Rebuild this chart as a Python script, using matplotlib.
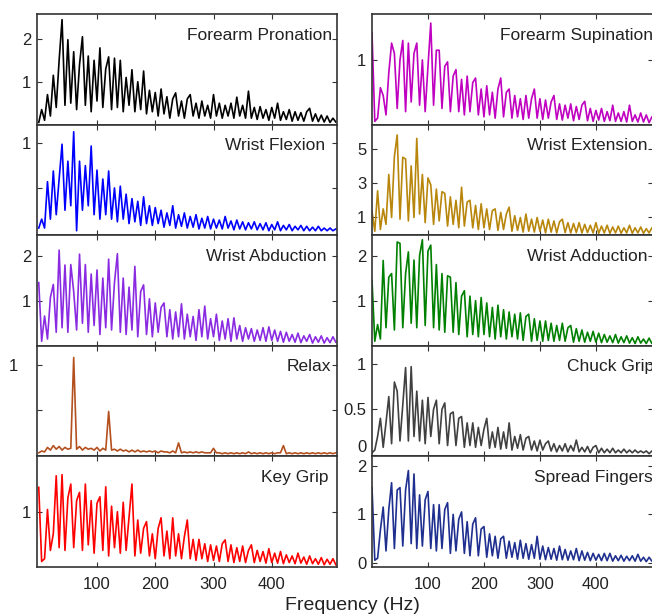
import matplotlib
matplotlib.use('Agg')
import matplotlib.pyplot as plt
import numpy as np

plt.rcParams['font.family'] = ['Liberation Sans', 'DejaVu Sans']

# frequency grid of the spectra (Hz)
freqs = np.arange(0, 511, 5)

# amplitude, 5 Hz steps from 0 to 510 Hz
forearm_pronation = [
    0.05, 0.35, 0.1, 0.7, 0.2, 1.15, 0.4, 1.5, 2.45, 0.45,
    1.98, 0.5, 1.7, 0.35, 1.4, 2.05, 0.45, 1.6, 0.3, 1.5,
    0.55, 1.79, 0.4, 1.3, 1.58, 0.35, 1.55, 0.4, 1.5, 0.3,
    1.1, 0.45, 1.28, 0.3, 1.0, 0.35, 1.25, 0.25, 0.8, 0.3,
    0.75, 0.2, 0.83, 0.25, 0.65, 0.15, 0.6, 0.74, 0.2, 0.55,
    0.15, 0.6, 0.7, 0.2, 0.5, 0.15, 0.55, 0.2, 0.45, 0.15,
    0.7, 0.2, 0.5, 0.15, 0.45, 0.2, 0.5, 0.15, 0.64, 0.2,
    0.45, 0.15, 0.78, 0.15, 0.4, 0.12, 0.42, 0.15, 0.35, 0.1,
    0.4, 0.15, 0.5, 0.1, 0.3, 0.12, 0.35, 0.08, 0.3, 0.1,
    0.28, 0.08, 0.3, 0.38, 0.08, 0.25, 0.07, 0.22, 0.06, 0.2,
    0.05, 0.15, 0.06]

wrist_flexion = [
    0.05, 0.15, 0.05, 0.57, 0.15, 0.69, 0.2, 0.6, 0.99, 0.25,
    0.8, 0.3, 1.13, 0.02, 0.8, 0.25, 0.75, 0.3, 0.97, 0.2,
    0.7, 0.15, 0.6, 0.2, 0.69, 0.15, 0.5, 0.12, 0.52, 0.15,
    0.43, 0.1, 0.38, 0.12, 0.35, 0.08, 0.4, 0.1, 0.3, 0.08,
    0.28, 0.1, 0.25, 0.06, 0.22, 0.08, 0.3, 0.05, 0.2, 0.07,
    0.22, 0.05, 0.18, 0.06, 0.2, 0.04, 0.16, 0.05, 0.18, 0.04,
    0.15, 0.05, 0.14, 0.04, 0.18, 0.05, 0.13, 0.03, 0.14, 0.04,
    0.12, 0.03, 0.11, 0.04, 0.12, 0.03, 0.1, 0.03, 0.11, 0.02,
    0.09, 0.03, 0.12, 0.02, 0.08, 0.03, 0.09, 0.02, 0.07, 0.03,
    0.08, 0.02, 0.07, 0.02, 0.06, 0.02, 0.07, 0.02, 0.05, 0.02,
    0.05, 0.02, 0.04]

wrist_abduction = [
    1.4, 0.1, 0.66, 0.15, 1.07, 1.36, 0.3, 2.12, 0.4, 1.79,
    0.3, 1.8, 1.2, 0.35, 2.03, 0.5, 1.8, 0.3, 1.59, 0.45,
    1.68, 0.25, 1.5, 0.4, 1.92, 0.35, 1.4, 2.04, 0.3, 1.5,
    0.25, 1.3, 0.35, 1.76, 0.2, 1.2, 1.35, 0.25, 1.04, 0.2,
    0.95, 0.3, 0.85, 0.95, 0.2, 0.8, 0.15, 0.75, 0.2, 0.93,
    0.15, 0.7, 0.2, 0.65, 0.12, 0.8, 0.2, 0.88, 0.15, 0.6,
    0.2, 0.7, 0.12, 0.55, 0.15, 0.6, 0.1, 0.62, 0.15, 0.45,
    0.1, 0.4, 0.15, 0.38, 0.1, 0.35, 0.12, 0.4, 0.1, 0.42,
    0.12, 0.35, 0.1, 0.32, 0.08, 0.3, 0.1, 0.25, 0.08, 0.28,
    0.07, 0.22, 0.1, 0.25, 0.06, 0.2, 0.08, 0.22, 0.06, 0.18,
    0.07, 0.2, 0.08]

relax = [
    0.02, 0.04, 0.03, 0.08, 0.05, 0.1, 0.06, 0.09, 0.05, 0.08,
    0.06, 0.07, 1.08, 0.06, 0.09, 0.05, 0.08, 0.06, 0.07, 0.05,
    0.08, 0.04, 0.07, 0.05, 0.48, 0.05, 0.06, 0.04, 0.06, 0.04,
    0.05, 0.03, 0.05, 0.03, 0.05, 0.03, 0.04, 0.03, 0.04, 0.03,
    0.04, 0.02, 0.04, 0.03, 0.03, 0.02, 0.04, 0.02, 0.13, 0.02,
    0.03, 0.02, 0.03, 0.02, 0.03, 0.02, 0.03, 0.02, 0.02, 0.02,
    0.07, 0.02, 0.02, 0.01, 0.02, 0.01, 0.02, 0.01, 0.02, 0.01,
    0.02, 0.01, 0.03, 0.01, 0.02, 0.01, 0.02, 0.01, 0.02, 0.01,
    0.02, 0.01, 0.02, 0.02, 0.1, 0.01, 0.02, 0.01, 0.02, 0.01,
    0.02, 0.01, 0.02, 0.01, 0.02, 0.01, 0.02, 0.01, 0.02, 0.01,
    0.02, 0.01, 0.02]

key_grip = [
    1.44, 0.1, 0.15, 1.04, 0.3, 0.6, 1.65, 0.35, 1.67, 0.3,
    1.25, 1.5, 0.35, 1.2, 1.35, 0.3, 1.5, 0.4, 1.2, 0.25,
    1.15, 1.27, 0.3, 1.45, 0.2, 1.1, 0.35, 1.0, 0.25, 1.17,
    0.3, 0.9, 1.5, 0.2, 0.85, 0.25, 0.7, 0.82, 0.2, 0.6,
    0.15, 0.7, 0.89, 0.2, 0.65, 0.15, 0.89, 0.2, 0.6, 0.15,
    0.55, 0.85, 0.15, 0.5, 0.12, 0.5, 0.15, 0.42, 0.1, 0.4,
    0.12, 0.38, 0.1, 0.42, 0.49, 0.1, 0.4, 0.08, 0.35, 0.1,
    0.38, 0.08, 0.3, 0.4, 0.08, 0.3, 0.1, 0.28, 0.07, 0.33,
    0.08, 0.25, 0.07, 0.28, 0.06, 0.22, 0.08, 0.2, 0.06, 0.25,
    0.07, 0.18, 0.05, 0.2, 0.06, 0.15, 0.05, 0.17, 0.04, 0.14,
    0.05, 0.15, 0.04]

forearm_supination = [
    1.42, 0.05, 0.1, 0.57, 0.45, 0.15, 0.8, 1.26, 1.1, 0.25,
    1.0, 1.3, 0.2, 1.26, 0.35, 1.1, 1.26, 0.3, 1.0, 0.2,
    0.9, 1.57, 0.3, 1.15, 1.15, 0.25, 0.9, 0.97, 0.2, 0.75,
    0.85, 0.2, 0.7, 0.15, 0.75, 0.2, 0.65, 0.72, 0.15, 0.55,
    0.12, 0.6, 0.15, 0.5, 0.1, 0.55, 0.72, 0.12, 0.5, 0.55,
    0.1, 0.45, 0.12, 0.4, 0.08, 0.45, 0.1, 0.4, 0.55, 0.1,
    0.4, 0.08, 0.38, 0.1, 0.35, 0.45, 0.08, 0.32, 0.07, 0.3,
    0.1, 0.32, 0.06, 0.28, 0.08, 0.3, 0.36, 0.06, 0.25, 0.05,
    0.22, 0.07, 0.25, 0.05, 0.2, 0.06, 0.3, 0.05, 0.18, 0.05,
    0.2, 0.04, 0.3, 0.05, 0.15, 0.04, 0.18, 0.04, 0.15, 0.03,
    0.12, 0.03, 0.1]

wrist_extension = [
    1.34, 0.2, 2.55, 0.3, 1.5, 0.6, 3.5, 1.0, 4.55, 5.8,
    0.9, 4.5, 4.4, 0.8, 4.0, 1.0, 5.6, 1.2, 3.5, 0.7,
    3.3, 2.9, 0.6, 2.65, 0.8, 2.5, 2.4, 0.5, 2.2, 0.6,
    2.0, 0.4, 2.76, 0.5, 1.9, 2.0, 0.4, 1.7, 0.3, 1.8,
    0.4, 1.5, 0.3, 1.4, 1.5, 0.25, 1.3, 0.3, 1.2, 1.6,
    0.2, 1.1, 0.25, 1.0, 0.15, 1.2, 0.2, 0.9, 0.15, 1.0,
    0.2, 0.85, 0.1, 0.9, 0.15, 0.8, 0.1, 0.75, 0.9, 0.12,
    0.7, 0.1, 0.65, 0.12, 0.7, 0.1, 0.6, 0.12, 0.55, 0.1,
    0.7, 0.08, 0.5, 0.1, 0.55, 0.08, 0.45, 0.1, 0.5, 0.08,
    0.4, 0.1, 0.55, 0.08, 0.4, 0.1, 0.45, 0.08, 0.35, 0.1,
    0.4, 0.08, 0.35]

wrist_adduction = [
    1.45, 0.1, 0.47, 0.15, 1.89, 0.4, 1.52, 1.6, 0.35, 2.3,
    2.27, 0.4, 1.6, 2.08, 0.5, 1.9, 0.4, 2.0, 2.35, 0.45,
    2.1, 2.23, 0.4, 1.8, 0.35, 1.6, 0.3, 1.55, 1.52, 0.3,
    1.4, 0.25, 1.1, 1.22, 0.2, 1.1, 0.25, 1.0, 0.2, 1.07,
    0.25, 0.95, 0.2, 0.85, 0.15, 0.9, 0.2, 0.8, 0.15, 0.75,
    0.2, 0.7, 0.15, 0.73, 0.12, 0.65, 0.7, 0.1, 0.6, 0.12,
    0.55, 0.1, 0.55, 0.12, 0.5, 0.1, 0.45, 0.12, 0.5, 0.1,
    0.4, 0.45, 0.08, 0.38, 0.1, 0.35, 0.08, 0.3, 0.1, 0.32,
    0.08, 0.28, 0.07, 0.25, 0.08, 0.22, 0.07, 0.25, 0.06, 0.2,
    0.07, 0.22, 0.06, 0.18, 0.05, 0.2, 0.06, 0.15, 0.05, 0.17,
    0.05, 0.15, 0.05]

chuck_grip = [
    0.02, 0.05, 0.2, 0.4, 0.08, 0.35, 0.64, 0.12, 0.8, 0.7,
    0.15, 0.55, 0.96, 0.15, 0.97, 0.2, 0.7, 0.15, 0.6, 0.12,
    0.63, 0.2, 0.5, 0.6, 0.12, 0.5, 0.57, 0.1, 0.45, 0.47,
    0.1, 0.4, 0.42, 0.08, 0.35, 0.1, 0.35, 0.08, 0.3, 0.1,
    0.28, 0.4, 0.07, 0.25, 0.08, 0.3, 0.06, 0.25, 0.07, 0.35,
    0.05, 0.2, 0.07, 0.22, 0.05, 0.18, 0.2, 0.05, 0.15, 0.04,
    0.16, 0.05, 0.12, 0.15, 0.04, 0.12, 0.03, 0.1, 0.04, 0.12,
    0.03, 0.1, 0.04, 0.16, 0.03, 0.08, 0.03, 0.09, 0.02, 0.08,
    0.1, 0.02, 0.07, 0.02, 0.06, 0.02, 0.07, 0.02, 0.05, 0.02,
    0.06, 0.02, 0.05, 0.02, 0.05, 0.02, 0.04, 0.02, 0.04, 0.01,
    0.04, 0.01, 0.03]

spread_fingers = [
    1.55, 0.06, 0.1, 0.68, 1.15, 0.25, 1.1, 1.65, 0.3, 1.5,
    1.55, 0.35, 1.5, 1.9, 0.4, 1.83, 0.3, 1.4, 0.35, 1.3,
    1.47, 0.3, 1.2, 0.25, 1.2, 0.3, 1.1, 1.24, 0.2, 1.0,
    0.25, 0.9, 1.05, 0.2, 0.85, 0.15, 0.8, 0.93, 0.15, 0.7,
    0.75, 0.12, 0.6, 0.15, 0.55, 0.1, 0.5, 0.55, 0.1, 0.45,
    0.12, 0.42, 0.08, 0.47, 0.1, 0.4, 0.08, 0.38, 0.1, 0.55,
    0.08, 0.35, 0.07, 0.32, 0.08, 0.3, 0.06, 0.35, 0.07, 0.28,
    0.06, 0.25, 0.07, 0.3, 0.05, 0.25, 0.06, 0.22, 0.05, 0.2,
    0.06, 0.18, 0.05, 0.2, 0.05, 0.2, 0.04, 0.15, 0.05, 0.16,
    0.04, 0.14, 0.05, 0.15, 0.04, 0.18, 0.04, 0.12, 0.03, 0.12,
    0.04, 0.1, 0.03]

x_ticks = [100, 200, 300, 400]

# (title, values, colour, yticks, ytick labels, ylim, title x in axes fraction)
left_panels = [
    ('Forearm Pronation', forearm_pronation, 'black', [1, 2], ['1', '2'], (0, 2.58), 0.985),
    ('Wrist Flexion', wrist_flexion, '#0000ff', [0.5, 1], ['', '1'], (-0.03, 1.21), 0.962),
    ('Wrist Abduction', wrist_abduction, '#8a2be2', [1, 2], ['1', '2'], (0, 2.45), 0.965),
    ('Relax', relax, '#b4501e', [0.5, 1], ['', '1'], (-0.02, 1.21), 0.982),
    ('Key Grip', key_grip, '#ff0000', [1], ['1'], (0, 2.0), 0.972),
]
right_panels = [
    ('Forearm Supination', forearm_supination, '#c000c0', [1], ['1'], (0, 1.71), 1.0),
    ('Wrist Extension', wrist_extension, '#b8860b', [1, 3, 5], ['1', '3', '5'], (-0.03, 6.4), 0.982),
    ('Wrist Adduction', wrist_adduction, '#008000', [1, 2], ['1', '2'], (0, 2.45), 0.982),
    ('Chuck Grip', chuck_grip, '#404040', [0, 0.5, 1], ['0', '0.5', '1'], (-0.02, 1.2), 1.004),
    ('Spread Fingers', spread_fingers, '#1f2f8f', [0, 1, 2], ['0', '1', '2'], (-0.08, 2.19), 1.0),
]

W, H = 652, 615
fig = plt.figure(figsize=(W / 100, H / 100), dpi=100)

top_px, bottom_px = 14, 567
row_h = (bottom_px - top_px) / 5
columns = [
    (left_panels, 37, 300, (-3, 512)),
    (right_panels, 372, 281, (0, 502)),
]

for panels, x0, width, xlim in columns:
    for i, (title, vals, color, yt, ytl, ylim, tx) in enumerate(panels):
        y_top = top_px + i * row_h
        ax = fig.add_axes([x0 / W, 1 - (y_top + row_h) / H, width / W, row_h / H])
        ax.plot(freqs, vals, color=color, lw=1.2)
        ax.set_xlim(*xlim)
        ax.set_ylim(*ylim)
        ax.set_xticks(x_ticks)
        ax.set_yticks(yt)
        ax.set_yticklabels(ytl)
        ax.tick_params(direction='in', top=True, right=True, length=3.5,
                       width=0.8, color='#333333', labelsize=12,
                       labelcolor='#222222')
        ax.tick_params(axis='y', pad=4)
        if title == 'Relax':
            ax.tick_params(axis='y', pad=14)
        if title == 'Chuck Grip':
            # the zero label sits a little above its tick
            ax.get_yticklabels()[0].set_va('bottom')
        if i < 4:
            ax.set_xticklabels([])
        else:
            ax.tick_params(axis='x', pad=7)
        for sp in ax.spines.values():
            sp.set_color('#333333')
            sp.set_linewidth(1.2)
        ax.text(tx, 0.81, title, transform=ax.transAxes, ha='right',
                va='center', fontsize=12.5, color='#222222', clip_on=False)

fig.text(352 / W, 1 - 605 / H, 'Frequency (Hz)', ha='center', va='center',
         fontsize=14, color='#222222')

fig.savefig('out.png', dpi=100)
